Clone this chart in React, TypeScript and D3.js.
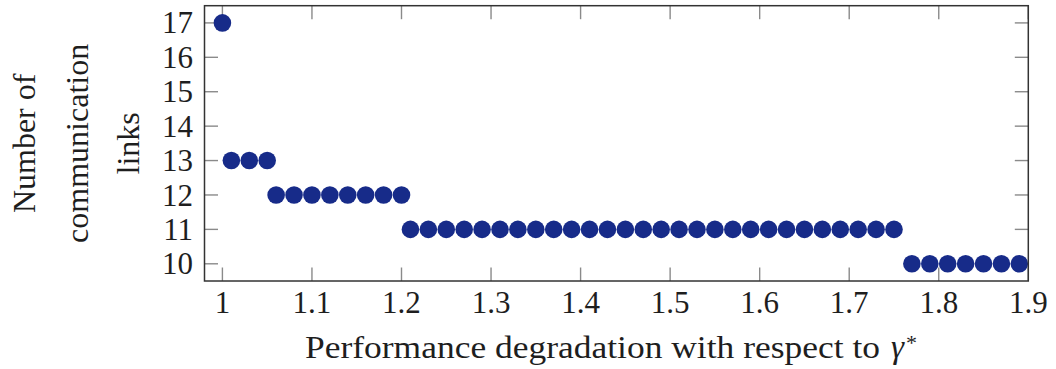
import React from "react";
import * as d3 from "d3";

const degradation: number[] = [
  1.0,
  1.01, 1.03, 1.05,
  1.06, 1.08, 1.1, 1.12, 1.14, 1.16, 1.18, 1.2,
  1.21, 1.23, 1.25, 1.27, 1.29, 1.31, 1.33, 1.35, 1.37, 1.39, 1.41, 1.43, 1.45, 1.47,
  1.49, 1.51, 1.53, 1.55, 1.57, 1.59, 1.61, 1.63, 1.65, 1.67, 1.69, 1.71, 1.73, 1.75,
  1.77, 1.79, 1.81, 1.83, 1.85, 1.87, 1.89,
];
const links: number[] = [
  17,
  13, 13, 13,
  12, 12, 12, 12, 12, 12, 12, 12,
  11, 11, 11, 11, 11, 11, 11, 11, 11, 11, 11, 11, 11, 11,
  11, 11, 11, 11, 11, 11, 11, 11, 11, 11, 11, 11, 11, 11,
  10, 10, 10, 10, 10, 10, 10,
];
const xTicks: number[] = [1, 1.1, 1.2, 1.3, 1.4, 1.5, 1.6, 1.7, 1.8, 1.9];
const yTicks: number[] = [10, 11, 12, 13, 14, 15, 16, 17];
const yLabelLines: string[] = ["Number of", "communication", "links"];
const xTitle = "Performance degradation with respect to";

const W = 1056;
const H = 369;
const left = 204.5;
const right = 1028.3;
const top = 5.7;
const bottom = 281;
const FONT = "'Liberation Serif', 'Times New Roman', serif";
const TEXT = "#1e1e1e";
const MARK = "#172b89";
const TICKLEN = 13.5;

export default function App() {
  const x = d3.scaleLinear().domain([0.98, 1.9]).range([left, right]);
  const y = d3.scaleLinear().domain([9.5, 17.5]).range([bottom, top]);
  const fmt = d3.format("~g");
  const cy = (top + bottom) / 2;
  const lineXs = [35, 88, 139];

  return (
    <svg
      width={W}
      height={H}
      style={{ position: "absolute", left: 0, top: 0, background: "#fff" }}
      fontFamily={FONT}
    >
      <rect x={0} y={0} width={W} height={H} fill="#fff" />
      {/* ticks */}
      <g stroke="#8a8a8a" strokeWidth={1.4}>
        {xTicks.map((t) => (
          <g key={"xt" + t}>
            <line x1={x(t)} x2={x(t)} y1={bottom} y2={bottom - TICKLEN} />
            <line x1={x(t)} x2={x(t)} y1={top} y2={top + TICKLEN} />
          </g>
        ))}
        {yTicks.map((t) => (
          <g key={"yt" + t}>
            <line x1={left} x2={left + TICKLEN} y1={y(t)} y2={y(t)} />
            <line x1={right} x2={right - TICKLEN} y1={y(t)} y2={y(t)} />
          </g>
        ))}
      </g>
      {/* points */}
      <g fill={MARK}>
        {degradation.map((d, i) => (
          <circle key={i} cx={x(d)} cy={y(links[i])} r={8.8} />
        ))}
      </g>
      {/* frame */}
      <rect
        x={left}
        y={top}
        width={right - left}
        height={bottom - top}
        fill="none"
        stroke="#333"
        strokeWidth={1.5}
      />
      {/* x tick labels */}
      <g fontSize={31} fill={TEXT} textAnchor="middle">
        {xTicks.map((t) => (
          <text key={"xl" + t} x={x(t)} y={313}>
            {fmt(t)}
          </text>
        ))}
      </g>
      {/* y tick labels */}
      <g fontSize={31} fill={TEXT} textAnchor="end">
        {yTicks.map((t) => (
          <text key={"yl" + t} x={193} y={y(t)} dy="0.34em">
            {t}
          </text>
        ))}
      </g>
      {/* x axis title */}
      <g fill={TEXT}>
        <text
          x={305}
          y={358}
          fontSize={32}
          textLength={575}
          lengthAdjust="spacingAndGlyphs"
        >
          {xTitle}
        </text>
        <text x={891} y={358} fontSize={33} fontStyle="italic">
          γ
        </text>
        <text x={906} y={350} fontSize={22}>
          *
        </text>
      </g>
      {/* y axis title */}
      <g fontSize={32} fill={TEXT} textAnchor="middle">
        {yLabelLines.map((s, i) => (
          <text
            key={s}
            transform={`translate(${lineXs[i]},${cy}) rotate(-90)`}
            x={0}
            y={0}
          >
            {s}
          </text>
        ))}
      </g>
    </svg>
  );
}
